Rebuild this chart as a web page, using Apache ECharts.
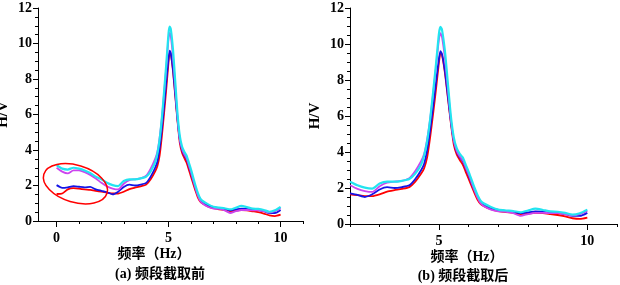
<!DOCTYPE html>
<html>
<head>
<meta charset="utf-8">
<script src="https://cdn.jsdelivr.net/npm/echarts@6/dist/echarts.min.js"></script>
<style>
  html, body { margin: 0; padding: 0; background: #fff; }
  #main { width: 620px; height: 285px; }
</style>
</head>
<body>
<div id="main"></div>
<script>
// 频率 (Hz)
var freq = [0, 0.25, 0.5, 0.75, 1.0, 1.25, 1.5, 1.75, 2.0, 2.25, 2.5, 2.75, 3.0, 3.25, 3.5, 3.75,
  4.0, 4.2, 4.4, 4.5, 4.6, 4.7, 4.8, 4.9, 5.0, 5.05, 5.1, 5.2, 5.3, 5.4, 5.5, 5.6, 5.7, 5.8, 5.9,
  6.0, 6.1, 6.2, 6.3, 6.4, 6.5, 6.75, 7.0, 7.25, 7.5, 7.75, 8.0, 8.25, 8.5, 8.75, 9.0, 9.25, 9.5, 9.75, 10.0];

// H/V 曲线
var hvRed = [1.52, 1.55, 1.78, 1.85, 1.82, 1.78, 1.75, 1.7, 1.65, 1.6, 1.55, 1.55, 1.65, 1.8, 1.88, 1.95,
  2.05, 2.35, 2.8, 3.1, 3.7, 4.8, 6.1, 7.5, 9.0, 9.5, 9.4, 8.4, 7.0, 5.6, 4.4, 3.85, 3.55, 3.3, 2.9,
  2.5, 2.1, 1.7, 1.35, 1.12, 1.0, 0.82, 0.72, 0.66, 0.62, 0.55, 0.58, 0.62, 0.6, 0.55, 0.5, 0.42, 0.32, 0.28, 0.36];
var hvBlue = [2.02, 1.87, 1.9, 1.96, 1.93, 1.9, 1.92, 1.78, 1.7, 1.62, 1.5, 1.65, 1.92, 2.05, 2.0, 2.05,
  2.15, 2.5, 3.0, 3.35, 4.1, 5.2, 6.5, 7.9, 9.2, 9.6, 9.45, 8.5, 7.1, 5.7, 4.6, 4.0, 3.7, 3.5, 3.1,
  2.7, 2.25, 1.85, 1.5, 1.25, 1.1, 0.9, 0.78, 0.72, 0.68, 0.6, 0.65, 0.7, 0.68, 0.62, 0.62, 0.55, 0.45, 0.45, 0.62];
var hvMagenta = [3.0, 2.78, 2.68, 2.85, 2.85, 2.75, 2.6, 2.4, 2.15, 1.95, 1.83, 1.78, 2.1, 2.3, 2.35, 2.4,
  2.55, 2.95, 3.5, 3.9, 4.7, 5.8, 7.2, 8.7, 10.3, 10.6, 10.4, 9.2, 7.5, 5.8, 4.6, 4.05, 3.75, 3.55, 3.15,
  2.75, 2.3, 1.85, 1.45, 1.15, 1.0, 0.8, 0.7, 0.68, 0.6, 0.45, 0.55, 0.62, 0.62, 0.6, 0.6, 0.55, 0.48, 0.55, 0.72];
var hvCyan = [3.15, 2.95, 2.9, 3.0, 2.95, 2.85, 2.7, 2.5, 2.35, 2.15, 2.02, 1.97, 2.25, 2.35, 2.35, 2.4,
  2.5, 2.8, 3.3, 3.8, 4.6, 5.8, 7.3, 8.9, 10.6, 10.95, 10.8, 9.6, 7.8, 6.0, 4.8, 4.2, 3.9, 3.7, 3.3,
  2.9, 2.45, 2.0, 1.6, 1.3, 1.15, 0.95, 0.8, 0.75, 0.72, 0.65, 0.75, 0.85, 0.78, 0.7, 0.68, 0.62, 0.52, 0.6, 0.8];

var xMajorLeft = [0, 5, 10];
var xMajorRight = [5, 10];
var xMinorLeft = [1, 2, 3, 4, 6, 7, 8, 9, 11];
var xMinorRight = [2, 3, 4, 6, 7, 8, 9, 11];

var curveColors = ['#ff0000', '#1414e6', '#cc44ee', '#22e4f0'];
var curves = [hvRed, hvBlue, hvMagenta, hvCyan];

var serif = '"Liberation Serif", "Noto Sans CJK SC", serif';

function pairs(vals, fmin) {
  var out = [];
  for (var i = 0; i < freq.length; i++) {
    if (freq[i] >= fmin) out.push([freq[i], vals[i]]);
  }
  return out;
}

function mainX(grid, min, labels, ticks) {
  return {
    type: 'value', gridIndex: grid, min: min, max: 11, interval: 0.01,
    axisLine: { show: true, onZero: false, lineStyle: { color: '#000', width: 1 } },
    axisTick: { show: true, length: 6, customValues: ticks, lineStyle: { color: '#000' } },
    axisLabel: { customValues: labels, color: '#000', fontFamily: serif, fontSize: 14, fontWeight: 'bold', margin: 10 },
    splitLine: { show: false }
  };
}
function minorX(grid, min, ticks) {
  return {
    type: 'value', gridIndex: grid, min: min, max: 11, interval: 0.01, position: 'bottom',
    axisLine: { show: false, onZero: false },
    axisTick: { show: true, length: 3, customValues: ticks, lineStyle: { color: '#000' } },
    axisLabel: { show: false },
    splitLine: { show: false }
  };
}
function yAx(grid) {
  return {
    type: 'value', gridIndex: grid, min: 0, max: 12, interval: 2,
    name: 'H/V', nameLocation: 'middle', nameGap: 27, nameRotate: 90,
    nameTextStyle: { color: '#000', fontFamily: serif, fontSize: 15, fontWeight: 'bold' },
    axisLine: { show: true, onZero: false, lineStyle: { color: '#000', width: 1 } },
    axisTick: { show: true, length: 5, lineStyle: { color: '#000' } },
    minorTick: { show: true, splitNumber: 4, length: 3, lineStyle: { color: '#000' } },
    axisLabel: { color: '#000', fontFamily: serif, fontSize: 14, fontWeight: 'bold', margin: 6 },
    splitLine: { show: false }
  };
}

var series = [];
curves.forEach(function (c, i) {
  series.push({ type: 'line', xAxisIndex: 0, yAxisIndex: 0, data: pairs(c, 0), showSymbol: false,
    smooth: 0.2, lineStyle: { color: curveColors[i], width: i === 3 ? 2.2 : 1.8 }, z: 2 + i });
  series.push({ type: 'line', xAxisIndex: 2, yAxisIndex: 1, data: pairs(c, 2), showSymbol: false,
    smooth: 0.2, lineStyle: { color: curveColors[i], width: i === 3 ? 2.2 : 1.8 }, z: 2 + i });
});

function caption(id, x, y, txt) {
  return { id: id, type: 'text', x: x, y: y, style: { text: txt, align: 'center', verticalAlign: 'middle',
    fill: '#000', font: 'bold 14px ' + serif } };
}

var myChart = echarts.init(document.getElementById('main'));
var option = {
  animation: false,
  backgroundColor: '#fff',
  grid: [
    { left: 38, top: 8, width: 265, height: 213, outerBoundsMode: 'none' },
    { left: 350, top: 8, width: 267, height: 216, outerBoundsMode: 'none' }
  ],
  xAxis: [
    mainX(0, -0.83, xMajorLeft, xMajorLeft),
    minorX(0, -0.83, xMinorLeft),
    mainX(1, 2, xMajorRight, xMajorRight),
    minorX(1, 2, xMinorRight)
  ],
  yAxis: [yAx(0), yAx(1)],
  series: series
};
myChart.setOption(option);

// 红色椭圆标注（低频段）
var c0 = myChart.convertToPixel({ xAxisIndex: 0, yAxisIndex: 0 }, [0.84, 2.1]);
myChart.setOption({
  graphic: [
    caption('t1', 154, 254, '频率（Hz）'),
    caption('t2', 160, 274, '(a) 频段截取前'),
    caption('t3', 467, 257, '频率（Hz）'),
    caption('t4', 463, 276, '(b) 频段截取后'),
    {
      id: 'ring', type: 'ellipse', x: c0[0], y: c0[1], rotation: -16.8 * Math.PI / 180,
      shape: { cx: 0, cy: 0, rx: 33, ry: 18.5 },
      style: { fill: 'none', stroke: '#ff0000', lineWidth: 1.5 }, z: 20
    }
  ]
});
</script>
</body>
</html>
